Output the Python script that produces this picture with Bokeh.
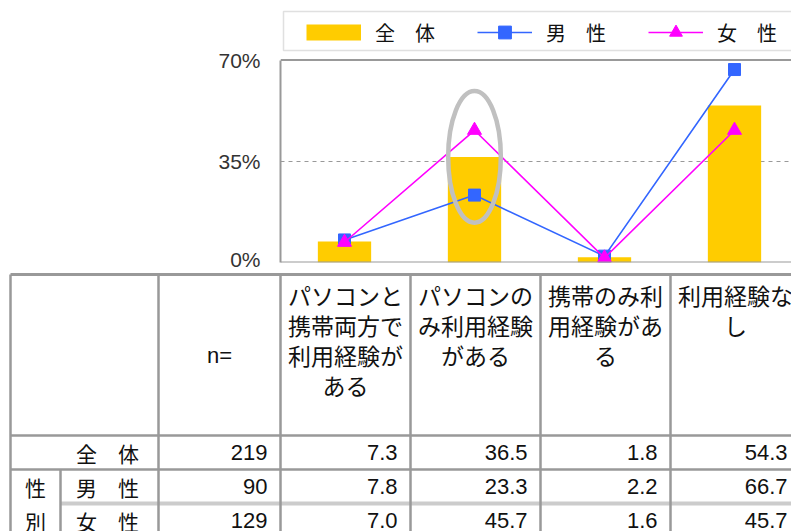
import numpy as np
from bokeh.plotting import figure
from bokeh.models import (Range1d, FixedTicker, PrintfTickFormatter, Span, Legend,
                          LegendItem, BoxAnnotation, ColumnDataSource)
from bokeh.layouts import column
from bokeh.embed import file_html
from bokeh.resources import INLINE
from bokeh.core.properties import value

# ---------------- data ----------------
categories = ["パソコンと携帯両方で利用経験がある", "パソコンのみ利用経験がある",
              "携帯のみ利用経験がある", "利用経験なし"]
header_lines = [["パソコンと", "携帯両方で", "利用経験が", "ある"],
                ["パソコンの", "み利用経験", "がある"],
                ["携帯のみ利", "用経験があ", "る"],
                ["利用経験な", "し"]]
series_names = ["全　体", "男　性", "女　性"]
total = [7.3, 36.5, 1.8, 54.3]
male = [7.8, 23.3, 2.2, 66.7]
female = [7.0, 45.7, 1.6, 45.7]
n_values = [219, 90, 129]
row_labels = ["全　体", "男　性", "女　性"]
group_label = ["性", "別"]
n_header = "n="
y_ticks = [0, 35, 70]
highlight_index = 1

# ---------------- style ----------------
JP = value("Noto Sans CJK JP")
NUM = value("Liberation Sans")
GRAY = "#999999"
BAR_COLOR = "#FFCC00"
W = 791
CHART_H = 270
TABLE_H = 261

xs = np.arange(len(categories))

# chart geometry (pixels)
border_left = 280
border_bottom = 8
frame_h = CHART_H - border_bottom
px_per_pct = 202.5 / 70.0
cat_px = 130.0
x_start = -64 / cat_px
x_end = x_start + (W - border_left) / cat_px
y_top = frame_h / px_per_pct


def px_to_pct(py_from_frame_bottom):
    return py_from_frame_bottom / px_per_pct


p = figure(width=W, height=CHART_H, x_range=Range1d(x_start, x_end),
           y_range=Range1d(0, y_top), output_backend="svg", toolbar_location=None,
           x_axis_location=None, min_border_left=border_left, min_border_right=0,
           min_border_top=0, min_border_bottom=border_bottom)
p.outline_line_color = None
p.xgrid.visible = False
p.ygrid.ticker = FixedTicker(ticks=[y_ticks[1]])
p.ygrid.grid_line_color = GRAY
p.ygrid.grid_line_dash = "4 4"
p.ygrid.grid_line_width = 1

ax = p.yaxis[0]
ax.ticker = FixedTicker(ticks=y_ticks)
ax.formatter = PrintfTickFormatter(format="%d%%")
ax.bounds = (y_ticks[0], y_ticks[-1])
ax.axis_line_color = GRAY
ax.axis_line_width = 2
ax.major_tick_line_color = None
ax.minor_tick_line_color = None
ax.major_label_text_font = "Liberation Sans"
ax.major_label_text_font_size = "21px"
ax.major_label_text_color = "#333333"
ax.major_label_standoff = 14

p.add_layout(Span(location=y_ticks[0], dimension="width", line_color=GRAY, line_width=2))
p.add_layout(Span(location=y_ticks[-1], dimension="width", line_color=GRAY, line_width=2))

src = ColumnDataSource(dict(x=xs, total=total, male=male, female=female))
bars = p.vbar(x="x", top="total", width=0.41, source=src, fill_color=BAR_COLOR, line_color=None)
# legend swatch for the bar series: a thick flat line, hidden in the plot itself
bar_swatch = p.line(x="x", y="total", source=src, line_color=BAR_COLOR, line_width=16,
                    line_cap="butt", visible=False)
lm = p.line(x="x", y="male", source=src, line_color="#3366FF", line_width=1.6)
sm = p.scatter(x="x", y="male", source=src, marker="square", size=12,
               fill_color="#3366FF", line_color="#3366FF")
lf = p.line(x="x", y="female", source=src, line_color="#FF00FF", line_width=1.6)
sf = p.scatter(x="x", y="female", source=src, marker="triangle", size=14,
               fill_color="#FF00FF", line_color="#FF00FF")
p.ellipse(x=[xs[highlight_index]], y=[total[highlight_index]], width=0.405, height=45.5,
          fill_color=None, line_color="#C0C0C0", line_width=4.5)

# legend box
p.add_layout(BoxAnnotation(left=x_start + 3 / cat_px, right=x_end + 1,
                           top=px_to_pct(frame_h - 11), bottom=px_to_pct(frame_h - 50),
                           fill_color="white", fill_alpha=1, line_color=GRAY, line_width=1.5))
legend = Legend(items=[LegendItem(label=series_names[0], renderers=[bar_swatch]),
                       LegendItem(label=series_names[1], renderers=[lm, sm]),
                       LegendItem(label=series_names[2], renderers=[lf, sf])],
                location=(26, frame_h - 48), orientation="horizontal", glyph_width=55,
                glyph_height=32, label_height=16, label_standoff=14, spacing=42, padding=0,
                margin=0, border_line_color=None, background_fill_alpha=0,
                inactive_fill_alpha=0, click_policy="none",
                label_text_font="Noto Sans CJK JP", label_text_font_size="20px",
                label_text_color="#111111")
p.add_layout(legend)

# ---------------- table ----------------
t = figure(width=W, height=TABLE_H, x_range=Range1d(0, W), y_range=Range1d(531, 270),
           output_backend="svg", toolbar_location=None, min_border=0,
           x_axis_location=None, y_axis_location=None)
t.outline_line_color = None
t.grid.visible = False

for fig in (p, t):
    try:
        fig.frame_align = False
    except AttributeError:
        pass

col_edges = [10, 158, 280, 410, 540, 670, 800]
row_edges = [274, 435, 469, 503, 537]
sub_col = 60
left, right = col_edges[0], col_edges[-1]
top, bottom = row_edges[0], row_edges[-1]

# horizontal lines
t.segment(x0=[left], y0=[top], x1=[right], y1=[top], line_color=GRAY, line_width=3)
t.segment(x0=[left, left, left], y0=[row_edges[1], row_edges[2], bottom],
          x1=[right, right, right], y1=[row_edges[1], row_edges[2], bottom],
          line_color=GRAY, line_width=2.5)
t.segment(x0=[sub_col], y0=[row_edges[3]], x1=[right], y1=[row_edges[3]],
          line_color="#CCCCCC", line_width=4)
# vertical lines
t.segment(x0=col_edges, y0=[top] * len(col_edges), x1=col_edges, y1=[bottom] * len(col_edges),
          line_color=GRAY, line_width=2.5)
t.segment(x0=[sub_col], y0=[row_edges[2]], x1=[sub_col], y1=[bottom], line_color=GRAY, line_width=2.5)

# header texts
hx, hy, htxt = [], [], []
for i, lines in enumerate(header_lines):
    cx = (col_edges[i + 2] + col_edges[i + 3]) / 2
    for j, s in enumerate(lines):
        hx.append(cx)
        hy.append(294 + 30 * j)
        htxt.append(s)
t.text(x=hx, y=hy, text=htxt, text_font=JP, text_font_size="23px", text_align="center",
       text_baseline="middle", text_color="#111111")
t.text(x=[(col_edges[1] + col_edges[2]) / 2], y=[(row_edges[0] + row_edges[1]) / 2], text=[n_header],
       text_font=NUM, text_font_size="22px", text_align="center", text_baseline="middle",
       text_color="#111111")

row_centers = [(row_edges[k] + row_edges[k + 1]) / 2 for k in range(1, 4)]
t.text(x=[107] * 3, y=row_centers, text=row_labels, text_font=JP, text_font_size="21px",
       text_align="center", text_baseline="middle", text_color="#111111")
t.text(x=[(left + sub_col) / 2] * 2, y=row_centers[1:], text=group_label, text_font=JP,
       text_font_size="21px", text_align="center", text_baseline="middle", text_color="#111111")

# numbers
nx, ny, ntxt = [], [], []
series_rows = [total, male, female]
for r in range(3):
    nx.append(col_edges[2] - 13)
    ny.append(row_centers[r])
    ntxt.append(str(n_values[r]))
    for c in range(len(categories)):
        nx.append(col_edges[c + 3] - 13)
        ny.append(row_centers[r])
        ntxt.append(f"{series_rows[r][c]:.1f}")
t.text(x=nx, y=ny, text=ntxt, text_font=NUM, text_font_size="22px", text_align="right",
       text_baseline="middle", text_color="#111111")

layout = column(p, t, spacing=0)
open("out.html", "w").write(file_html(layout, INLINE))
